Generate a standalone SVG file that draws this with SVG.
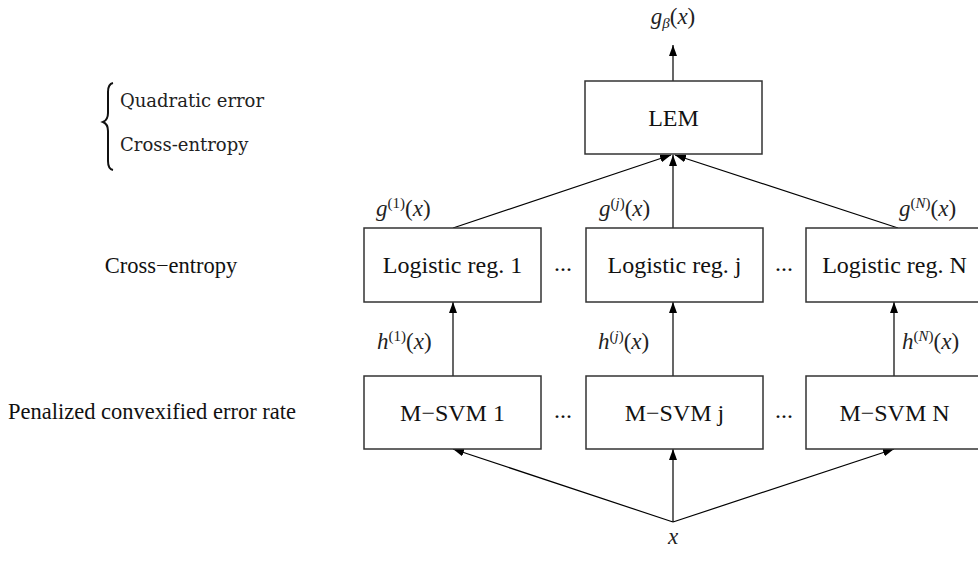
<svg xmlns="http://www.w3.org/2000/svg" width="978" height="569" viewBox="0 0 978 569">
<style>
.box{fill:#fff;stroke:#333;stroke-width:1.5}
.lbl{font-family:"Liberation Serif",serif;font-size:24px;fill:#111;text-anchor:middle}
.side{font-family:"Liberation Serif",serif;font-size:22.5px;fill:#111}
.cm{font-family:"DejaVu Serif",serif;font-size:18px;fill:#222}
.m{font-family:"Liberation Serif",serif;font-size:23px;fill:#222}
.mi{font-style:italic}
.sup{font-size:15px}
.edge{stroke:#000;stroke-width:1.2;fill:none;marker-end:url(#ah)}
</style>
<defs>
<marker id="ah" markerUnits="userSpaceOnUse" markerWidth="12" markerHeight="8" refX="11" refY="4" orient="auto">
<path d="M0,0 L11,4 L0,8 z" fill="#000"/>
</marker>
</defs>
<rect width="978" height="569" fill="#fff"/>

<g id="connectors">
<line class="edge" x1="673" y1="81" x2="673" y2="45"/>
<line class="edge" x1="453" y1="228" x2="671" y2="155"/>
<line class="edge" x1="673" y1="228" x2="673" y2="155"/>
<line class="edge" x1="898" y1="228" x2="675" y2="155"/>
<line class="edge" x1="453" y1="376" x2="453" y2="302"/>
<line class="edge" x1="673" y1="376" x2="673" y2="302"/>
<line class="edge" x1="894" y1="376" x2="894" y2="302"/>
<line class="edge" x1="673" y1="522" x2="453" y2="449"/>
<line class="edge" x1="673" y1="522" x2="673" y2="449"/>
<line class="edge" x1="673" y1="522" x2="894" y2="449"/>
</g>

<g id="lem"><rect class="box" x="585" y="81" width="177" height="73"/><text class="lbl" x="673.5" y="126">LEM</text></g>

<g id="log1"><rect class="box" x="364" y="228" width="177" height="74"/><text class="lbl" x="452.5" y="273">Logistic reg. 1</text></g>
<g id="logj"><rect class="box" x="586" y="228" width="177" height="74"/><text class="lbl" x="674.5" y="273">Logistic reg. j</text></g>
<g id="logN"><rect class="box" x="806" y="228" width="177" height="74"/><text class="lbl" x="894.5" y="273">Logistic reg. N</text></g>

<g id="svm1"><rect class="box" x="364" y="376" width="177" height="73"/><text class="lbl" x="452.5" y="421">M−SVM 1</text></g>
<g id="svmj"><rect class="box" x="586" y="376" width="177" height="73"/><text class="lbl" x="674.5" y="421">M−SVM j</text></g>
<g id="svmN"><rect class="box" x="806" y="376" width="177" height="73"/><text class="lbl" x="894.5" y="421">M−SVM N</text></g>

<g id="dots">
<text class="lbl" x="563" y="271">...</text>
<text class="lbl" x="563" y="418">...</text>
<text class="lbl" x="784" y="271">...</text>
<text class="lbl" x="784" y="418">...</text>
</g>

<g id="math-labels">
<text class="m" x="673" y="24" text-anchor="middle"><tspan class="mi">g</tspan><tspan class="sup mi" dy="4">β</tspan><tspan dy="-4">(</tspan><tspan class="mi">x</tspan>)</text>
<text class="m" x="376" y="216"><tspan class="mi">g</tspan><tspan class="sup" dy="-8">(1)</tspan><tspan dy="8">(</tspan><tspan class="mi">x</tspan>)</text>
<text class="m" x="599" y="216"><tspan class="mi">g</tspan><tspan class="sup" dy="-8">(<tspan class="mi">j</tspan>)</tspan><tspan dy="8">(</tspan><tspan class="mi">x</tspan>)</text>
<text class="m" x="899" y="216"><tspan class="mi">g</tspan><tspan class="sup" dy="-8">(<tspan class="mi">N</tspan>)</tspan><tspan dy="8">(</tspan><tspan class="mi">x</tspan>)</text>
<text class="m" x="377" y="349"><tspan class="mi">h</tspan><tspan class="sup" dy="-8">(1)</tspan><tspan dy="8">(</tspan><tspan class="mi">x</tspan>)</text>
<text class="m" x="598" y="349"><tspan class="mi">h</tspan><tspan class="sup" dy="-8">(<tspan class="mi">j</tspan>)</tspan><tspan dy="8">(</tspan><tspan class="mi">x</tspan>)</text>
<text class="m" x="902" y="349"><tspan class="mi">h</tspan><tspan class="sup" dy="-8">(<tspan class="mi">N</tspan>)</tspan><tspan dy="8">(</tspan><tspan class="mi">x</tspan>)</text>
<text class="m mi" x="673" y="544" text-anchor="middle">x</text>
</g>

<g id="side-labels">
<text class="side" x="171" y="273" text-anchor="middle">Cross−entropy</text>
<text class="side" x="152" y="419" text-anchor="middle">Penalized convexified error rate</text>
</g>

<g id="loss-brace">
<path d="M113,83 Q108,84 108,92 L108,113 Q108,120 103,122 Q108,124 108,131 L108,161 Q108,169 113,170" fill="none" stroke="#111" stroke-width="2"/>
<text class="cm" x="120" y="107">Quadratic error</text>
<text class="cm" x="120" y="151">Cross-entropy</text>
</g>
</svg>
